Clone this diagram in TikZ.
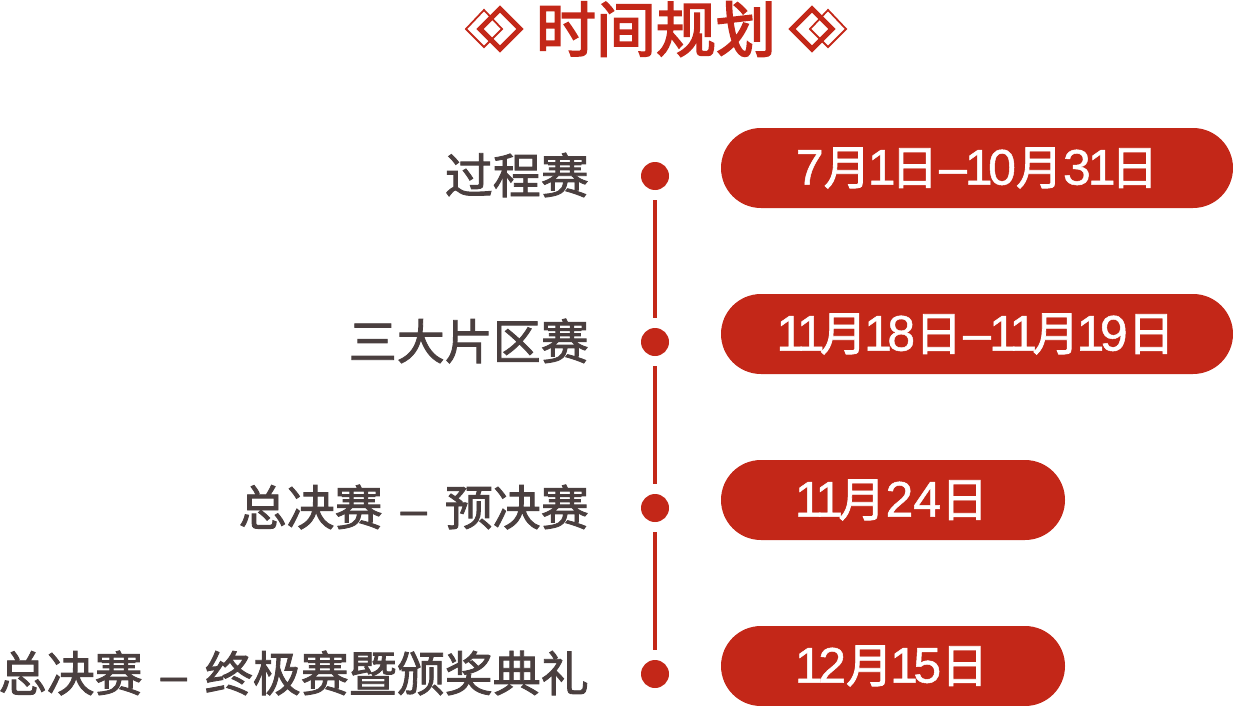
\documentclass[tikz,border=0pt]{standalone}
\usepackage{fontspec}
\setmainfont{Noto Sans CJK SC}
\newfontfamily\medcjk[FakeBold=1.8]{Noto Sans CJK SC}
\newfontfamily\titlecjk[FakeBold=3]{Noto Sans CJK SC}
\newfontfamily\latinf[FakeBold=1]{Liberation Sans}
\newcommand{\dg}[1]{{\fontsize{50}{50}\latinf #1}}
\newcommand{\ONE}{\kern-3pt\dg{1}\kern-4.5pt}
\newcommand{\DASH}{\kern1pt\dg{–}\kern1pt}
\newcommand{\lbldash}{\kern18pt{\fontsize{47}{47}\latinf –}\kern18pt}
\definecolor{brandred}{HTML}{C32718}
\definecolor{labelgray}{HTML}{4A3F3F}
\usetikzlibrary{shapes.misc}
\tikzset{
  x=1pt,y=-1pt,
  dot/.style={circle,fill=brandred,minimum size=28pt,inner sep=0pt},
  pill/.style={rounded rectangle,fill=brandred,minimum height=80pt,inner sep=0pt,text=white,font=\fontsize{47}{47}\medcjk},
  steplabel/.style={anchor=east,inner sep=0pt,text=labelgray,font=\fontsize{48}{48}\medcjk},
  link/.style={draw=brandred,line width=4pt,shorten >=10pt,shorten <=10pt},
  bigdia/.style={draw=brandred,line width=5pt,miter limit=10},
  smalldia/.style={draw=brandred,line width=1.8pt},
}
\begin{document}
\begin{tikzpicture}
\useasboundingbox (0,0) rectangle (1233,706);
% title
\node[inner sep=0pt,text=brandred,font=\fontsize{60}{60}\titlecjk] (title) at (656,29) {时间规划};
% ornaments
\draw[smalldia] (466,29) -- (484,10) -- (502,29) -- (484,47) -- cycle;
\draw[bigdia] (480,29) -- (500,9) -- (520,29) -- (500,49) -- cycle;
\draw[smalldia] (846,29) -- (828,10) -- (810,29) -- (828,47) -- cycle;
\draw[bigdia] (832,29) -- (812,9) -- (792,29) -- (812,49) -- cycle;
% dots
\node[dot] (d1) at (655,176) {};
\node[dot] (d2) at (655,342) {};
\node[dot] (d3) at (655,508) {};
\node[dot] (d4) at (655,674) {};
\draw[link] (d1) -- (d2);
\draw[link] (d2) -- (d3);
\draw[link] (d3) -- (d4);
% labels
\node[steplabel] (l1) at (589,175) {过程赛};
\node[steplabel] (l2) at (589,341) {三大片区赛};
\node[steplabel] (l3) at (589,507) {总决赛\lbldash 预决赛};
\node[steplabel] (l4) at (589,673) {总决赛\lbldash 终极赛暨颁奖典礼};
% pills
\node[pill,minimum width=512pt] (p1) at (977,168) {\dg{7}月\ONE 日\DASH\ONE\dg{0}月\dg{3}\ONE 日};
\node[pill,minimum width=512pt] (p2) at (977,334) {\ONE\ONE 月\ONE\dg{8}日\DASH\ONE\ONE 月\ONE\dg{9}日};
\node[pill,minimum width=344pt] (p3) at (893,500) {\ONE\ONE 月\dg{24}日};
\node[pill,minimum width=344pt] (p4) at (893,666) {\ONE\dg{2}月\ONE\dg{5}日};
\end{tikzpicture}
\end{document}
